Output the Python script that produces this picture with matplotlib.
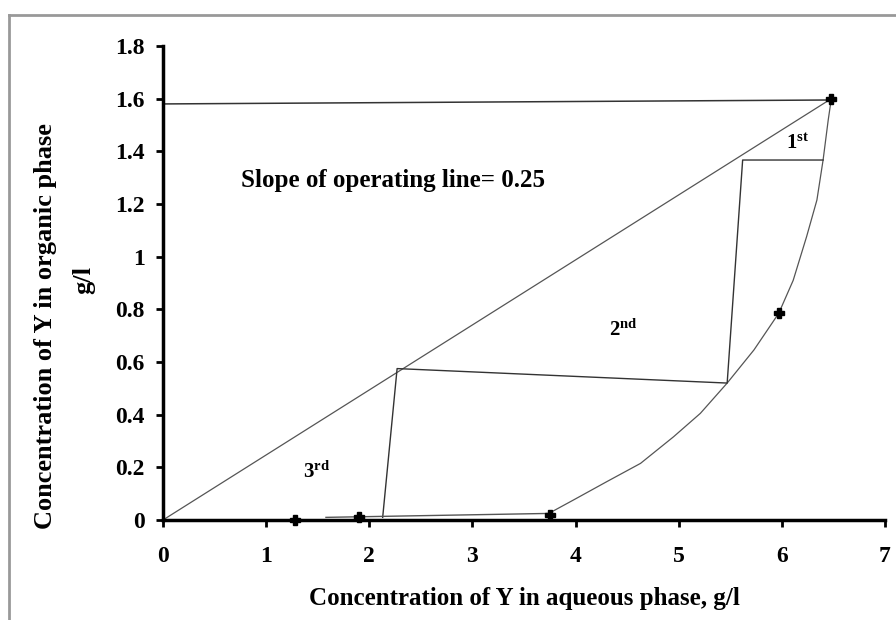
import matplotlib.pyplot as plt
from matplotlib.lines import Line2D

# police serif gras, comme dans le graphique d'origine
plt.rcParams['font.family'] = ['Liberation Serif', 'DejaVu Serif']
plt.rcParams['font.weight'] = 'bold'
plt.rcParams['axes.labelweight'] = 'bold'
plt.rcParams['mathtext.default'] = 'regular'

# points experimentaux (phase aqueuse, phase organique), g/l
points_x = [1.28, 1.9, 3.75, 5.97, 6.48]
points_y = [0.0, 0.01, 0.02, 0.785, 1.6]

# courbe d'equilibre
equil_x = [3.75, 3.98, 4.30, 4.63, 4.95, 5.21, 5.47, 5.73, 5.97,
           6.11, 6.24, 6.34, 6.40, 6.45, 6.48]
equil_y = [0.027, 0.076, 0.145, 0.215, 0.316, 0.405, 0.52, 0.646, 0.785,
           0.91, 1.076, 1.215, 1.367, 1.52, 1.6]

# droite operatoire (pente 0.25)
oper_x = [0.0, 6.48]
oper_y = [0.0, 1.6]

# ligne horizontale du haut
haut_x = [0.0, 6.48]
haut_y = [1.58, 1.595]

# construction des etages
etage_x = [6.40, 5.62, 5.47, 2.27, 2.13]
etage_y = [1.367, 1.367, 0.52, 0.575, 0.01]

# ligne du bas
bas_x = [1.58, 3.75]
bas_y = [0.01, 0.025]

fig = plt.figure(figsize=(8.96, 6.2), dpi=100)
ax = fig.add_axes([0.1819, 0.1613, 0.8058, 0.7645])

ax.plot(haut_x, haut_y, color='#333333', lw=1.1)
ax.plot(oper_x, oper_y, color='#555555', lw=0.9)
ax.plot(equil_x, equil_y, color='#555555', lw=0.9)
ax.plot(etage_x, etage_y, color='#333333', lw=1.0)
ax.plot(bas_x, bas_y, color='#555555', lw=1.0)
ax.plot(points_x, points_y, linestyle='none', marker='P', markersize=7,
        color='black', clip_on=False, zorder=5)

ax.text(0.76, 1.29, 'Slope of operating line= 0.25', fontsize=18, va='center')
ax.text(6.15, 1.43, '1$^{st}$', fontsize=15, ha='center', va='center')
ax.text(4.46, 0.72, '2$^{nd}$', fontsize=15, ha='center', va='center')
ax.text(1.49, 0.18, '3$^{rd}$', fontsize=15, ha='center', va='center')

ax.set_xlim(0, 7)
ax.set_ylim(0, 1.8)
ax.set_xticks(range(0, 8))
ax.set_yticks([0, 0.2, 0.4, 0.6, 0.8, 1, 1.2, 1.4, 1.6, 1.8])
ax.set_yticklabels(['0', '0.2', '0.4', '0.6', '0.8', '1', '1.2', '1.4', '1.6', '1.8'])

for s in ['top', 'right']:
    ax.spines[s].set_visible(False)
for s in ['left', 'bottom']:
    ax.spines[s].set_linewidth(2.5)
ax.tick_params(axis='both', direction='out', length=5, width=2, labelsize=17)
ax.tick_params(axis='x', pad=14)
ax.tick_params(axis='y', pad=8)

ax.set_xlabel('Concentration of Y in aqueous phase, g/l', fontsize=18, labelpad=14)

# etiquette de l'axe y sur deux lignes
fig.text(46 / 896, 1 - 326 / 620, 'Concentration of Y in organic phase',
         rotation=90, fontsize=19, ha='center', va='center')
fig.text(84 / 896, 1 - 280 / 620, 'g/l', rotation=90, fontsize=19,
         ha='center', va='center')

# cadre exterieur
fig.add_artist(Line2D([9 / 896, 1], [1 - 15 / 620, 1 - 15 / 620],
                      transform=fig.transFigure, color='#999999', lw=2))
fig.add_artist(Line2D([9 / 896, 9 / 896], [0, 1 - 15 / 620],
                      transform=fig.transFigure, color='#999999', lw=2))

fig.savefig('out.png', dpi=100)
